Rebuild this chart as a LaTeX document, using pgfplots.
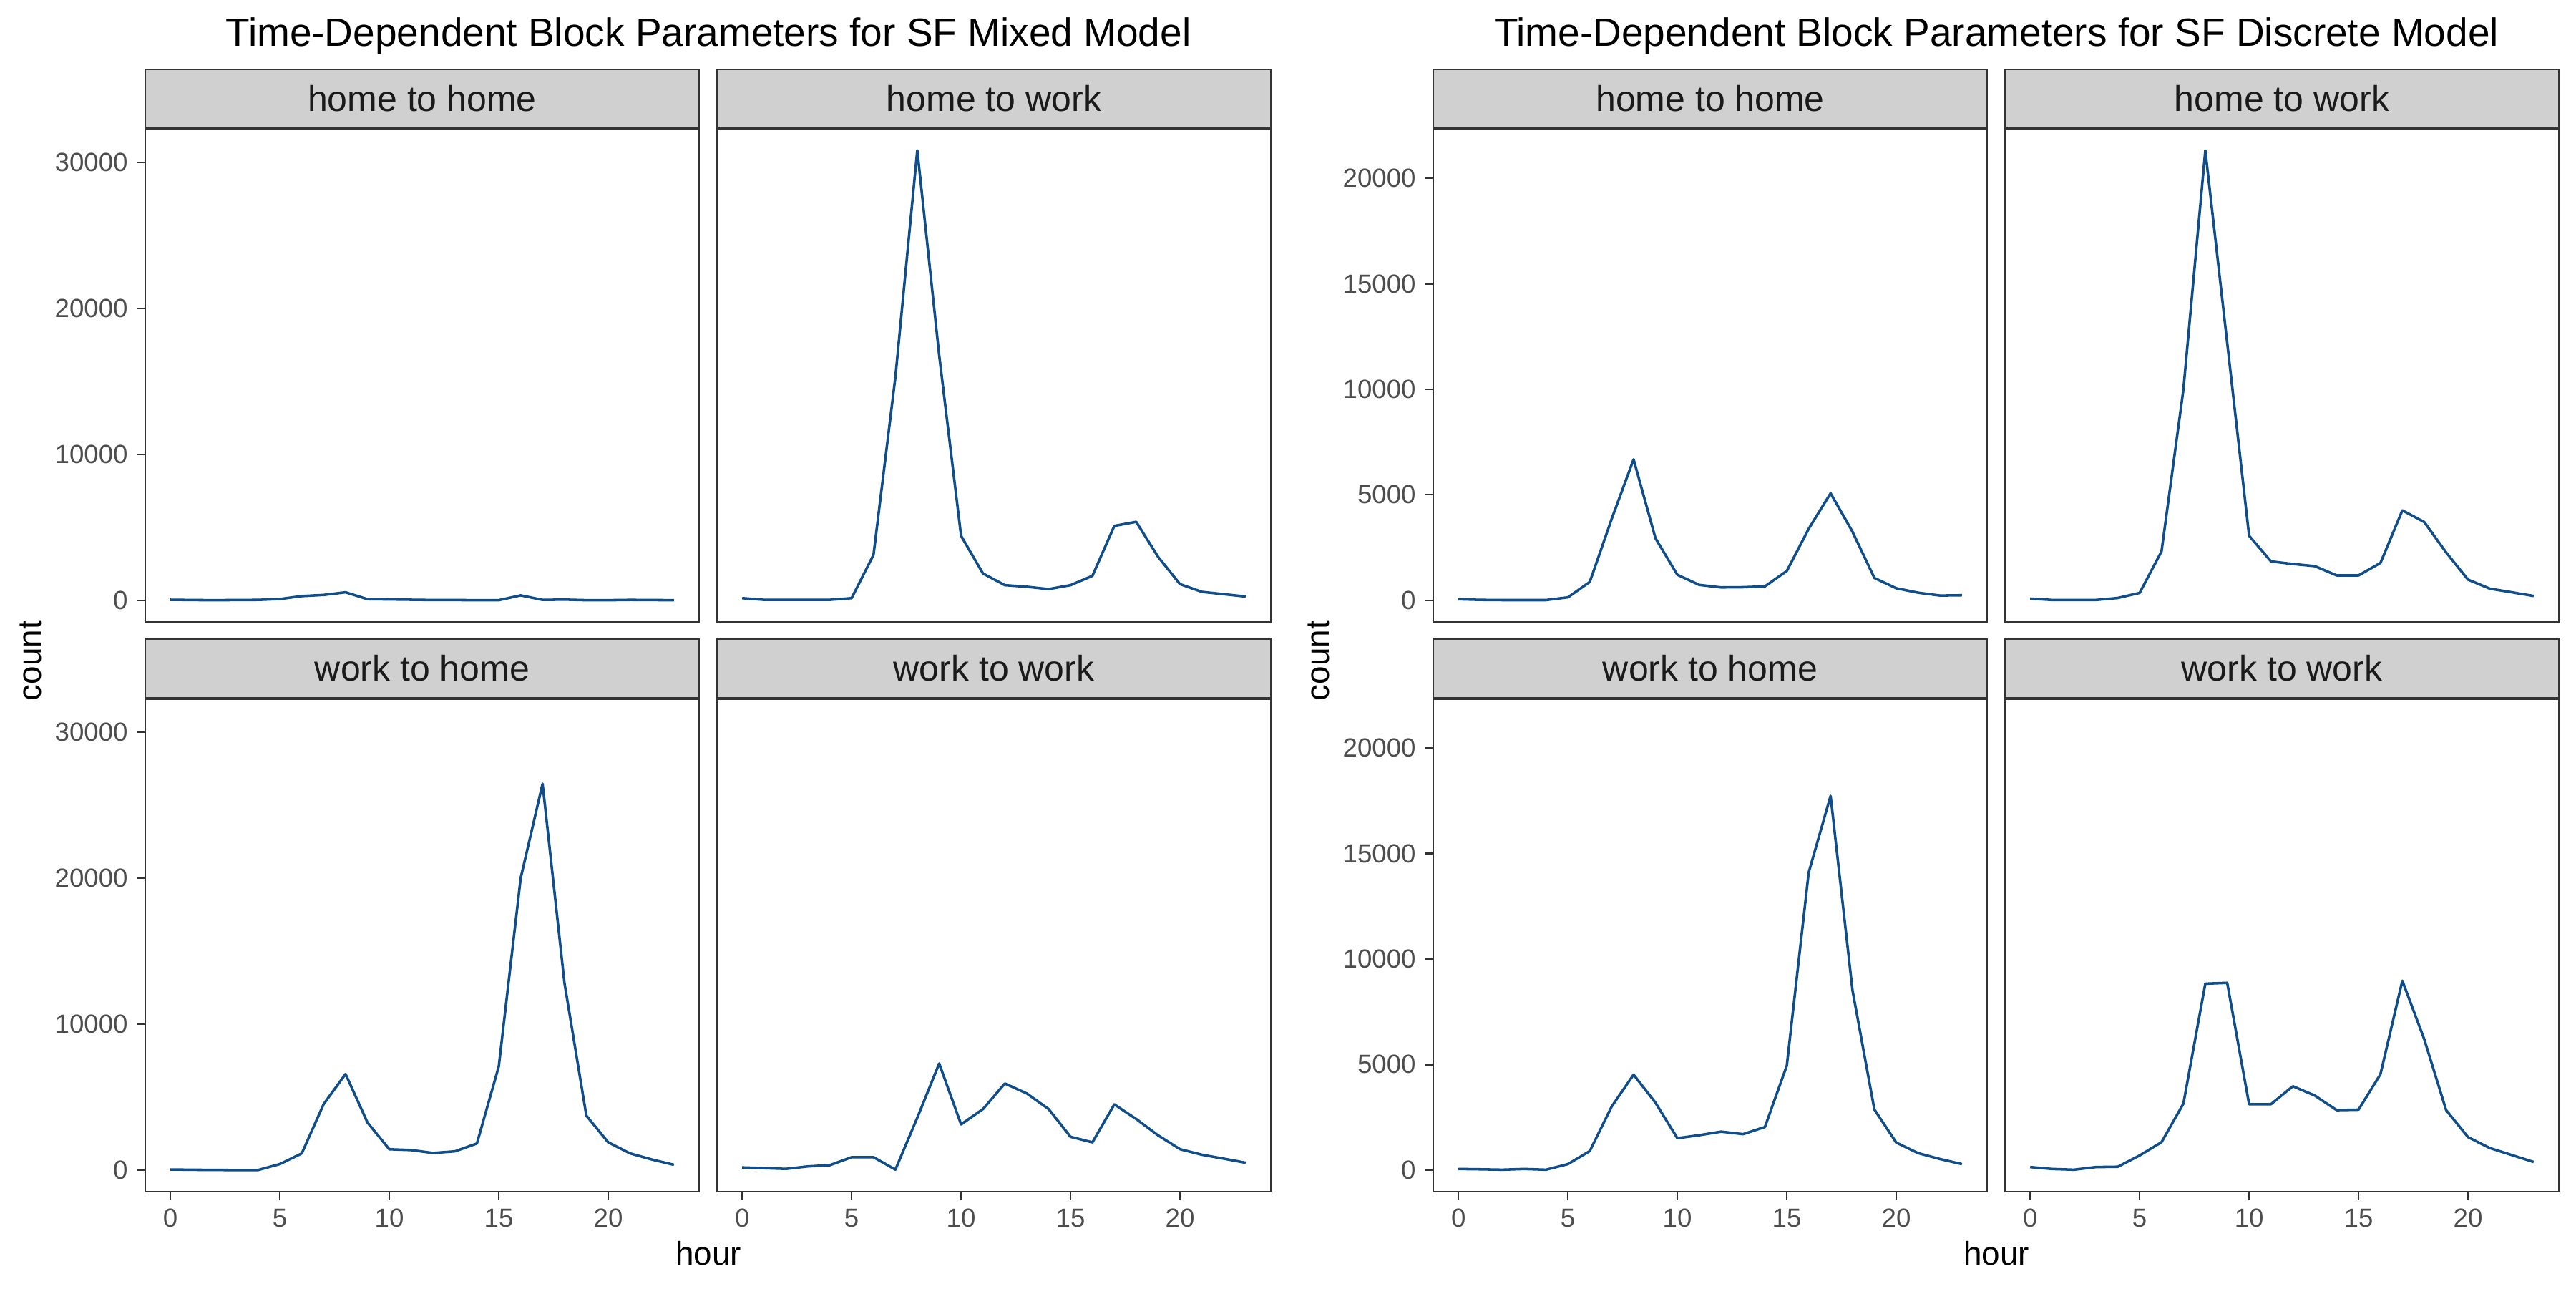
\documentclass[border=0pt]{standalone}
\usepackage{fontspec}
\setmainfont{Liberation Sans}
\usepackage{pgfplots}
\pgfplotsset{compat=1.18}
\definecolor{grey20}{RGB}{51,51,51}
\definecolor{grey30}{RGB}{77,77,77}
\definecolor{grey10}{RGB}{26,26,26}
\definecolor{stripgray}{RGB}{208,208,208}
\definecolor{linecol}{RGB}{16,78,139}
\pgfplotsset{
  panel/.style={
    scale only axis, width=185.76pt, height=165.12pt,
    anchor=south west,
    xmin=-1.15, xmax=24.15,
    xtick={0,5,10,15,20},
    axis line style={draw=grey20, line width=0.45pt},
    tick style={draw=grey20, line width=0.55pt},
    tick align=outside,
    major tick length=2.76pt,
    xtick pos=bottom, ytick pos=left,
    ticklabel style={font=\fontsize{8.8}{10}\selectfont, text=grey30},
    xticklabel style={inner sep=0pt, yshift=-2.76pt},
    yticklabel style={inner sep=0pt, xshift=-2.9pt},
    /pgf/number format/assume math mode=true,
    /pgf/number format/set thousands separator={},
    /pgf/number format/fixed,
    scaled y ticks=false,
    every axis title/.style={at={(0.5,1)}, anchor=south, yshift=0.25pt,
      fill=stripgray, draw=grey20, line width=0.45pt,
      minimum width=185.76pt, minimum height=19.68pt, inner sep=0pt,
      font=\fontsize{12}{14}\selectfont, text=grey10},
  },
  mixed/.style={ymin=-1470, ymax=32270, ytick={0,10000,20000,30000}},
  discrete/.style={ymin=-1025, ymax=22308, ytick={0,5000,10000,15000,20000}},
  nox/.style={xtick=\empty},
  noy/.style={ytick=\empty},
  dline/.style={draw=linecol, line width=0.85pt, line join=round, mark=none},
}
\begin{document}
\begin{tikzpicture}
\useasboundingbox (0,0) rectangle (864pt,432pt);

% ---------------- Mixed model ----------------
\begin{axis}[panel, mixed, nox, at={(48.72pt,223.44pt)}, title={home to home}]
\addplot[dline] coordinates {(0,50)(1,30)(2,20)(3,30)(4,40)(5,100)(6,300)(7,380)(8,560)(9,90)(10,70)(11,50)(12,30)(13,30)(14,20)(15,20)(16,350)(17,40)(18,60)(19,20)(20,20)(21,40)(22,30)(23,20)};
\end{axis}
\begin{axis}[panel, mixed, nox, noy, at={(240.48pt,223.44pt)}, title={home to work}]
\addplot[dline] coordinates {(0,160)(1,45)(2,45)(3,45)(4,45)(5,160)(6,3130)(7,15320)(8,30845)(9,16800)(10,4430)(11,1850)(12,1050)(13,940)(14,780)(15,1050)(16,1690)(17,5110)(18,5390)(19,2990)(20,1120)(21,590)(22,430)(23,270)};
\end{axis}
\begin{axis}[panel, mixed, at={(48.72pt,32.4pt)}, title={work to home}]
\addplot[dline] coordinates {(0,50)(1,30)(2,20)(3,10)(4,10)(5,420)(6,1150)(7,4530)(8,6590)(9,3270)(10,1435)(11,1380)(12,1180)(13,1295)(14,1830)(15,7120)(16,20010)(17,26480)(18,12830)(19,3740)(20,1910)(21,1150)(22,730)(23,370)};
\end{axis}
\begin{axis}[panel, mixed, noy, at={(240.48pt,32.4pt)}, title={work to work}]
\addplot[dline] coordinates {(0,190)(1,140)(2,90)(3,260)(4,340)(5,890)(6,890)(7,40)(8,3600)(9,7310)(10,3140)(11,4190)(12,5940)(13,5260)(14,4190)(15,2290)(16,1910)(17,4510)(18,3510)(19,2390)(20,1440)(21,1060)(22,790)(23,510)};
\end{axis}

% ---------------- Discrete model ----------------
\begin{axis}[panel, discrete, nox, at={(480.72pt,223.44pt)}, title={home to home}]
\addplot[dline] coordinates {(0,50)(1,20)(2,10)(3,10)(4,10)(5,140)(6,870)(7,3860)(8,6680)(9,2940)(10,1210)(11,730)(12,610)(13,620)(14,660)(15,1390)(16,3390)(17,5070)(18,3250)(19,1060)(20,570)(21,360)(22,225)(23,240)};
\end{axis}
\begin{axis}[panel, discrete, nox, noy, at={(672.48pt,223.44pt)}, title={home to work}]
\addplot[dline] coordinates {(0,80)(1,15)(2,15)(3,15)(4,110)(5,350)(6,2320)(7,10000)(8,21310)(9,12200)(10,3060)(11,1845)(12,1720)(13,1620)(14,1180)(15,1180)(16,1770)(17,4260)(18,3710)(19,2270)(20,980)(21,550)(22,380)(23,205)};
\end{axis}
\begin{axis}[panel, discrete, at={(480.72pt,32.4pt)}, title={work to home}]
\addplot[dline] coordinates {(0,50)(1,35)(2,15)(3,50)(4,15)(5,280)(6,900)(7,3010)(8,4520)(9,3190)(10,1510)(11,1650)(12,1820)(13,1700)(14,2040)(15,4950)(16,14100)(17,17730)(18,8520)(19,2870)(20,1300)(21,800)(22,520)(23,280)};
\end{axis}
\begin{axis}[panel, discrete, noy, at={(672.48pt,32.4pt)}, title={work to work}]
\addplot[dline] coordinates {(0,140)(1,50)(2,15)(3,140)(4,155)(5,690)(6,1320)(7,3150)(8,8830)(9,8870)(10,3120)(11,3120)(12,3970)(13,3530)(14,2840)(15,2860)(16,4540)(17,8970)(18,6200)(19,2840)(20,1560)(21,1040)(22,710)(23,380)};
\end{axis}

% ---------------- titles and axis labels ----------------
\node[anchor=base, font=\fontsize{13.2}{15}\selectfont] at (237.6pt,416.4pt) {Time-Dependent Block Parameters for SF Mixed Model};
\node[anchor=base, font=\fontsize{13.2}{15}\selectfont] at (669.6pt,416.4pt) {Time-Dependent Block Parameters for SF Discrete Model};
\node[anchor=base, font=\fontsize{11}{13}\selectfont] at (237.6pt,7.92pt) {hour};
\node[anchor=base, font=\fontsize{11}{13}\selectfont] at (669.6pt,7.92pt) {hour};
\node[anchor=base, rotate=90, font=\fontsize{11}{13}\selectfont] at (13.68pt,210.48pt) {count};
\node[anchor=base, rotate=90, font=\fontsize{11}{13}\selectfont] at (445.68pt,210.48pt) {count};
\end{tikzpicture}
\end{document}
